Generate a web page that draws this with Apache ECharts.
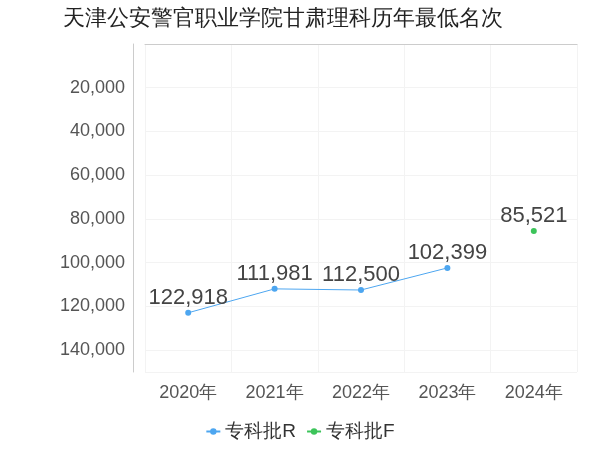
<!DOCTYPE html>
<html><head><meta charset="utf-8">
<script src="https://cdn.jsdelivr.net/npm/echarts@6/dist/echarts.min.js"></script>
<style>body{margin:0}#c{width:600px;height:450px}</style></head>
<body><div id="c"></div>
<script>
const categories=['2020年','2021年','2022年','2023年','2024年'];
const seriesR=[122918,111981,112500,102399,null];
const seriesF=[null,null,null,null,85521];
const names=['专科批R','专科批F'];
const ch=echarts.init(document.getElementById('c'));
const lbl={show:true,position:'top',distance:1,fontSize:22,color:'#444',formatter:p=>p.value.toLocaleString('en-US')};
ch.setOption({
 title:{text:'天津公安警官职业学院甘肃理科历年最低名次',left:58,top:3,textStyle:{fontSize:22,fontWeight:'normal',color:'#222'}},
 legend:{bottom:4,itemGap:10,itemWidth:14,itemHeight:8,textStyle:{fontSize:19,color:'#333'},data:names},
 grid:{left:145,right:23,top:44,bottom:78},
 xAxis:{type:'category',data:categories,boundaryGap:true,axisLabel:{fontSize:18,color:'#555',margin:12},axisTick:{show:false},axisLine:{lineStyle:{color:'#ccc'}},splitLine:{show:true,lineStyle:{color:'#f3f3f3'}}},
 yAxis:{type:'value',inverse:true,min:0,max:150000,interval:20000,offset:12,axisLabel:{fontSize:18,color:'#555',showMinLabel:false,showMaxLabel:false,formatter:v=>v.toLocaleString('en-US')},axisLine:{show:true,lineStyle:{color:'#ccc'}},splitLine:{lineStyle:{color:'#f3f3f3'}}},
 series:[
  {name:names[0],type:'line',data:seriesR,color:'#4da6f0',symbol:'circle',symbolSize:6,lineStyle:{width:1},label:lbl},
  {name:names[1],type:'line',data:seriesF,color:'#3cc45a',symbol:'circle',symbolSize:6,label:lbl}
 ]
});
</script></body></html>
